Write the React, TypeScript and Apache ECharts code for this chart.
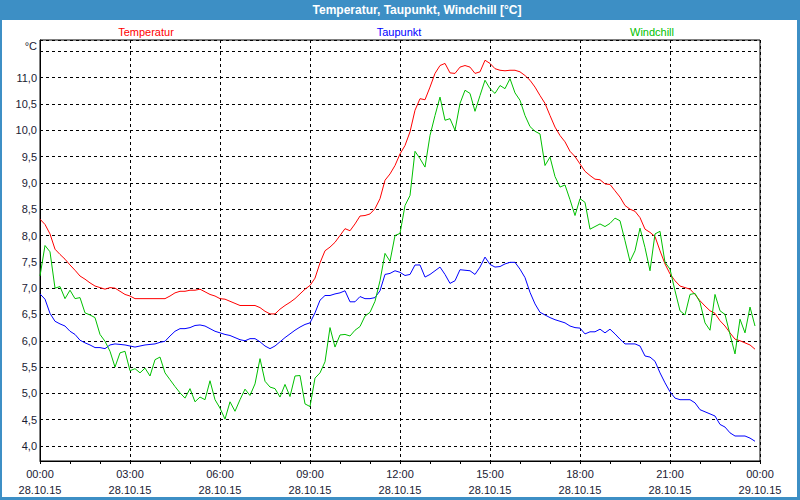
import React, { useEffect, useRef } from "react";
import * as echarts from "echarts";

// 10-minute samples, 28.10.15 00:00 .. 23:50
const temperatur = [
  8.31, 8.21, 8.03, 7.74, 7.64, 7.55, 7.44, 7.34, 7.23, 7.17, 7.10, 7.04,
  7.01, 6.98, 7.01, 7.00, 6.94, 6.88, 6.85, 6.80, 6.80, 6.80, 6.80, 6.80,
  6.80, 6.80, 6.85, 6.91, 6.94, 6.94, 6.96, 6.96, 6.98, 6.93, 6.88, 6.85,
  6.80, 6.79, 6.75, 6.71, 6.67, 6.67, 6.67, 6.67, 6.63, 6.56, 6.51, 6.51,
  6.60, 6.67, 6.73, 6.80, 6.89, 6.98, 7.05, 7.19, 7.48, 7.71, 7.78, 7.87,
  8.00, 8.13, 8.09, 8.22, 8.37, 8.38, 8.41, 8.51, 8.70, 9.05, 9.17, 9.33,
  9.55, 9.71, 9.97, 10.38, 10.60, 10.58, 10.82, 11.08, 11.23, 11.27, 11.09, 11.08,
  11.20, 11.23, 11.20, 11.08, 11.11, 11.33, 11.27, 11.17, 11.14, 11.13, 11.14, 11.14,
  11.11, 11.04, 10.95, 10.82, 10.66, 10.51, 10.28, 10.06, 9.90, 9.78, 9.60, 9.50,
  9.36, 9.22, 9.14, 9.07, 9.06, 8.98, 8.97, 8.85, 8.73, 8.57, 8.50, 8.46,
  8.34, 8.12, 8.06, 7.98, 7.71, 7.46, 7.27, 7.14, 7.04, 7.01, 6.98, 6.88,
  6.76, 6.66, 6.57, 6.52, 6.38, 6.28, 6.15, 6.03, 6.00, 5.96, 5.92, 5.84,
];

const taupunkt = [
  6.89, 6.79, 6.52, 6.37, 6.32, 6.28, 6.18, 6.12, 6.01, 5.96, 5.92, 5.87,
  5.87, 5.85, 5.92, 5.94, 5.93, 5.92, 5.90, 5.88, 5.90, 5.92, 5.93, 5.94,
  5.97, 5.99, 6.09, 6.18, 6.23, 6.23, 6.25, 6.29, 6.30, 6.28, 6.23, 6.18,
  6.15, 6.12, 6.10, 6.06, 6.02, 6.00, 6.04, 6.04, 5.98, 5.90, 5.85, 5.90,
  5.98, 6.06, 6.13, 6.20, 6.26, 6.31, 6.34, 6.53, 6.77, 6.86, 6.86, 6.89,
  6.91, 6.95, 6.74, 6.74, 6.84, 6.80, 6.80, 6.82, 6.95, 7.26, 7.28, 7.33,
  7.30, 7.24, 7.26, 7.44, 7.44, 7.21, 7.26, 7.33, 7.40, 7.26, 7.09, 7.14,
  7.35, 7.34, 7.33, 7.26, 7.40, 7.59, 7.45, 7.40, 7.41, 7.46, 7.49, 7.49,
  7.36, 7.20, 6.92, 6.70, 6.54, 6.49, 6.44, 6.40, 6.37, 6.34, 6.28, 6.25,
  6.24, 6.13, 6.17, 6.17, 6.22, 6.15, 6.22, 6.13, 6.03, 5.94, 5.94, 5.94,
  5.90, 5.71, 5.69, 5.61, 5.39, 5.20, 5.03, 4.91, 4.88, 4.88, 4.88, 4.82,
  4.69, 4.65, 4.61, 4.57, 4.41, 4.36, 4.25, 4.19, 4.19, 4.19, 4.15, 4.09,
];

const windchill = [
  7.23, 7.81, 7.69, 7.00, 7.03, 6.80, 6.96, 6.80, 6.82, 6.53, 6.49, 6.44,
  6.12, 5.99, 5.80, 5.50, 5.77, 5.80, 5.43, 5.47, 5.39, 5.48, 5.33, 5.64,
  5.69, 5.39, 5.26, 5.13, 5.01, 4.91, 5.09, 4.84, 4.93, 4.88, 5.24, 4.88,
  4.72, 4.51, 4.84, 4.66, 4.88, 5.08, 4.96, 5.18, 5.66, 5.23, 5.12, 5.09,
  4.93, 5.17, 4.94, 5.33, 5.34, 4.80, 4.75, 5.29, 5.39, 5.60, 6.25, 5.88,
  6.11, 6.12, 6.09, 6.20, 6.27, 6.47, 6.54, 6.75, 7.14, 7.66, 7.51, 8.00,
  8.04, 8.57, 8.76, 9.60, 9.46, 9.30, 9.90, 10.28, 10.63, 10.19, 10.22, 10.00,
  10.51, 10.76, 10.70, 10.36, 10.66, 10.95, 10.79, 10.70, 10.85, 10.79, 10.98, 10.71,
  10.57, 10.28, 10.07, 9.98, 9.93, 9.33, 9.49, 9.12, 8.92, 8.96, 8.68, 8.38,
  8.70, 8.63, 8.12, 8.17, 8.22, 8.17, 8.23, 8.33, 8.28, 7.90, 7.51, 7.71,
  8.14, 7.77, 7.33, 8.03, 8.08, 7.49, 7.36, 6.95, 6.57, 6.49, 6.88, 6.90,
  6.73, 6.34, 6.20, 6.88, 6.57, 6.50, 6.12, 5.75, 6.41, 6.15, 6.64, 6.28,
];

const dayLabels = ["28.10.15", "29.10.15"];
const seriesNames = ["Temperatur", "Taupunkt", "Windchill"];
const titleText = "Temperatur, Taupunkt, Windchill [°C]";
const unitText = "°C";

const categories: string[] = [];
for (let i = 0; i <= 144; i++) {
  const h = Math.floor(i / 6) % 24;
  const m = (i % 6) * 10;
  const hh = String(h).padStart(2, "0");
  const mm = String(m).padStart(2, "0");
  categories.push(`${hh}:${mm}\n${i === 144 ? dayLabels[1] : dayLabels[0]}`);
}

const FONT = "'Liberation Sans', Arial, sans-serif";
const TXT = "#1a1a33";
const RED = "#ff0000";
const BLUE = "#0000ff";
const GREEN = "#00c000";

export default function App() {
  const ref = useRef<HTMLDivElement>(null);
  useEffect(() => {
    document.body.style.margin = "0";
    if (!ref.current) return;
    const chart = echarts.init(ref.current, undefined, { renderer: "svg" });
    const dash = { type: [3, 3] as any, color: "#000", width: 1 };
    chart.setOption({
      animation: false,
      backgroundColor: "#3d8fc5",
      textStyle: { fontFamily: FONT },
      graphic: [
        { type: "rect", z: -10, shape: { x: 2, y: 20, width: 795, height: 477 }, style: { fill: "#ffffff" } },
        { type: "text", x: 417, y: 10, style: { text: titleText, fill: "#ffffff", font: `bold 12px ${FONT}`, textAlign: "center", textVerticalAlign: "middle" } },
        { type: "text", x: 146, y: 32, style: { text: seriesNames[0], fill: RED, font: `11px ${FONT}`, textAlign: "center", textVerticalAlign: "middle" } },
        { type: "text", x: 399, y: 32, style: { text: seriesNames[1], fill: BLUE, font: `11px ${FONT}`, textAlign: "center", textVerticalAlign: "middle" } },
        { type: "text", x: 652, y: 32, style: { text: seriesNames[2], fill: GREEN, font: `11px ${FONT}`, textAlign: "center", textVerticalAlign: "middle" } },
        { type: "text", x: 37, y: 46, style: { text: unitText, fill: TXT, font: `11px ${FONT}`, textAlign: "right", textVerticalAlign: "middle" } },
      ],
      grid: { left: 40, right: 40, top: 40, bottom: 39, show: true, borderColor: "#000", borderWidth: 1, backgroundColor: "transparent" },
      xAxis: {
        type: "category",
        data: categories,
        boundaryGap: false,
        axisLine: { lineStyle: { color: "#000", width: 1 } },
        axisTick: { show: true, interval: (i: number) => i % 6 === 0, length: 3, lineStyle: { color: "#000" } },
        axisLabel: { interval: (i: number) => i % 18 === 0, color: TXT, fontSize: 11, lineHeight: 16, margin: 5, fontFamily: FONT },
        splitLine: { show: true, interval: (i: number) => i % 18 === 0, lineStyle: dash },
      },
      yAxis: {
        type: "value",
        min: 3.715,
        max: 11.715,
        splitNumber: 16,
        axisLine: { show: true, lineStyle: { color: "#000", width: 1 } },
        axisTick: { show: false },
        axisLabel: {
          color: TXT,
          fontSize: 11,
          margin: 3,
          fontFamily: FONT,
          showMinLabel: false,
          showMaxLabel: false,
          formatter: (v: number) => {
            const r = Math.round(v * 2) / 2;
            if (Math.abs(r - v) > 1e-6 || v > 11.01) return "";
            return v.toFixed(1).replace(".", ",");
          },
        },
        splitLine: { show: true, lineStyle: dash },
      },
      series: [
        { name: seriesNames[0], type: "line", data: temperatur, symbol: "none", lineStyle: { color: RED, width: 1 }, itemStyle: { color: RED } },
        { name: seriesNames[1], type: "line", data: taupunkt, symbol: "none", lineStyle: { color: BLUE, width: 1 }, itemStyle: { color: BLUE } },
        { name: seriesNames[2], type: "line", data: windchill, symbol: "none", lineStyle: { color: GREEN, width: 1 }, itemStyle: { color: GREEN } },
      ],
    });
    return () => chart.dispose();
  }, []);
  return <div ref={ref} style={{ width: 800, height: 500 }} />;
}
